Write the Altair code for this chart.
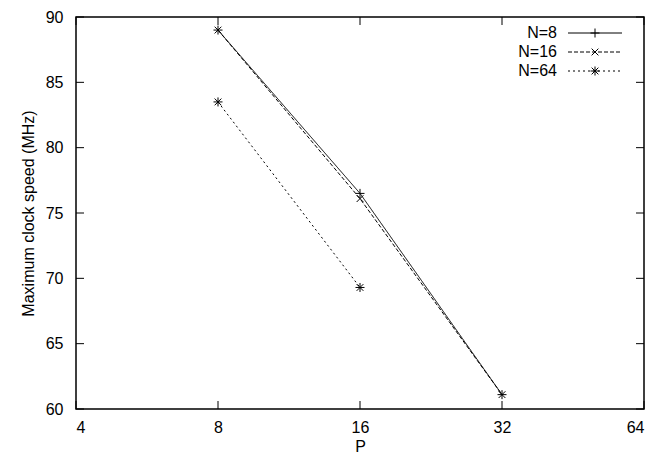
import altair as alt
import pandas as pd

series = ["N=8", "N=16", "N=64"]
p_n8 = [8, 16, 32]
mhz_n8 = [89.0, 76.5, 61.1]
p_n16 = [8, 16, 32]
mhz_n16 = [89.0, 76.1, 61.1]
p_n64 = [8, 16]
mhz_n64 = [83.5, 69.3]

x_ticks = [4, 8, 16, 32, 64]
y_ticks = [60, 65, 70, 75, 80, 85, 90]

PLUS = "M-1,0L1,0M0,-1L0,1"
CROSS = "M-0.75,-0.75L0.75,0.75M-0.75,0.75L0.75,-0.75"
STAR = "M-1,0L1,0M0,-1L0,1M-0.75,-0.75L0.75,0.75M-0.75,0.75L0.75,-0.75"
shapes = [PLUS, CROSS, STAR]
dashes = [[1, 0], [4, 2], [2, 3]]

W, H = 568, 392
FONT = "Liberation Sans"

rows = []
for name, ps, vs in [("N=8", p_n8, mhz_n8), ("N=16", p_n16, mhz_n16), ("N=64", p_n64, mhz_n64)]:
    for p, v in zip(ps, vs):
        rows.append({"series": name, "P": p, "MHz": v})
df = pd.DataFrame(rows)

xscale = alt.Scale(type="log", base=2, domain=[4, 64], nice=False)
yscale = alt.Scale(domain=[60, 90], nice=False, zero=False)

xaxis = alt.Axis(values=x_ticks, format="d", title="P", labelPadding=10,
                 titleFontWeight="normal", titleFontSize=16, titleFont=FONT,
                 titleY=42, titleBaseline="alphabetic")
yaxis = alt.Axis(values=y_ticks, format="d", title="Maximum clock speed (MHz)",
                 labelPadding=13, titleFontWeight="normal", titleFontSize=16,
                 titleFont=FONT, titleX=-48, titleY=H / 2, titleAngle=-90,
                 titleBaseline="middle", titleAlign="center")

base = alt.Chart(df)
lines = base.mark_line(color="black", strokeWidth=1).encode(
    x=alt.X("P:Q", scale=xscale, axis=xaxis),
    y=alt.Y("MHz:Q", scale=yscale, axis=yaxis),
    detail="series:N",
    strokeDash=alt.StrokeDash("series:N", scale=alt.Scale(domain=series, range=dashes), legend=None),
    order="P:Q",
)
points = base.mark_point(filled=False, color="black", strokeWidth=1, size=81, opacity=1).encode(
    x=alt.X("P:Q", scale=xscale),
    y=alt.Y("MHz:Q", scale=yscale),
    shape=alt.Shape("series:N", scale=alt.Scale(domain=series, range=shapes), legend=None),
)

xt = pd.DataFrame({"P": x_ticks})
yt = pd.DataFrame({"MHz": y_ticks})
tick_bottom = alt.Chart(xt).mark_rule(color="black", strokeWidth=1).encode(
    x=alt.X("P:Q", scale=xscale), y=alt.value(H), y2=alt.value(H - 8))
tick_top = alt.Chart(xt).mark_rule(color="black", strokeWidth=1).encode(
    x=alt.X("P:Q", scale=xscale), y=alt.value(0), y2=alt.value(8))
tick_left = alt.Chart(yt).mark_rule(color="black", strokeWidth=1).encode(
    y=alt.Y("MHz:Q", scale=yscale), x=alt.value(0), x2=alt.value(8))
tick_right = alt.Chart(yt).mark_rule(color="black", strokeWidth=1).encode(
    y=alt.Y("MHz:Q", scale=yscale), x=alt.value(W - 8), x2=alt.value(W))

legend_layers = []
row_y = [16, 35, 54]
for i, name in enumerate(series):
    ldf = pd.DataFrame({"label": [name]})
    lc = alt.Chart(ldf)
    legend_layers.append(lc.mark_text(align="right", baseline="middle", font=FONT,
                                      fontSize=16, color="black").encode(
        text="label:N", x=alt.value(481), y=alt.value(row_y[i])))
    legend_layers.append(lc.mark_rule(color="black", strokeWidth=1, strokeDash=dashes[i]).encode(
        x=alt.value(492), x2=alt.value(546), y=alt.value(row_y[i])))
    legend_layers.append(lc.mark_point(filled=False, color="black", strokeWidth=1, size=81,
                                       shape=shapes[i], opacity=1).encode(
        x=alt.value(519), y=alt.value(row_y[i])))

chart = alt.layer(lines, points, tick_bottom, tick_top, tick_left, tick_right, *legend_layers).properties(
    width=W, height=H,
    padding={"left": 68, "top": 9, "right": 9, "bottom": 46},
    autosize=alt.AutoSizeParams(type="none"),
).configure_view(stroke="black", strokeWidth=1.5).configure_axis(
    grid=False, domain=False, ticks=False, labelFont=FONT, labelFontSize=16,
    labelColor="black", titleColor="black",
)

chart.save("out.html", embed_options={"renderer": "svg", "actions": False})
